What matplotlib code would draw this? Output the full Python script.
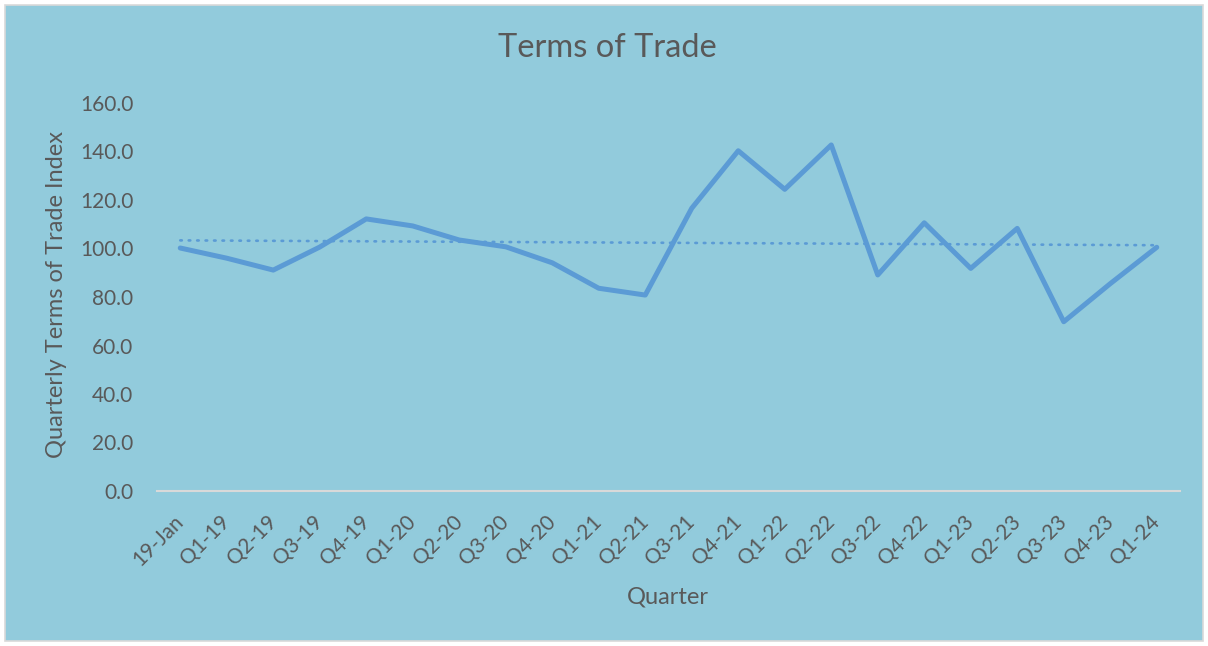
import numpy as np
import matplotlib
matplotlib.use("Agg")
import matplotlib.pyplot as plt
from matplotlib.patches import Rectangle

quarters = ["19-Jan", "Q1-19", "Q2-19", "Q3-19", "Q4-19", "Q1-20", "Q2-20", "Q3-20",
            "Q4-20", "Q1-21", "Q2-21", "Q3-21", "Q4-21", "Q1-22", "Q2-22", "Q3-22",
            "Q4-22", "Q1-23", "Q2-23", "Q3-23", "Q4-23", "Q1-24"]
tot_index = [100.2, 96.0, 91.1, 100.6, 112.2, 109.3, 103.5, 100.7, 94.1, 83.6, 80.8,
             116.6, 140.3, 124.4, 142.7, 89.1, 110.6, 91.8, 108.3, 69.8, 85.5, 100.5]
y_ticks = [0, 20, 40, 60, 80, 100, 120, 140, 160]

BG = "#92CBDC"
LINE = "#5B9BD5"
TXT = "#595959"

plt.rcParams['font.family'] = ['Lato', 'DejaVu Sans']

fig = plt.figure(figsize=(12.08, 6.46), dpi=100)
fig.patch.set_facecolor("white")
fig.patches.append(Rectangle((5/1208, 5/646), 1 - 10/1208, 1 - 10/646,
                             transform=fig.transFigure, facecolor=BG,
                             edgecolor="#D9D9D9", linewidth=1.2, zorder=-10))

ax = fig.add_axes([157/1208, 1 - 491/646, (1180 - 157)/1208, (491 - 103)/646])
ax.set_facecolor("none")

x = np.arange(len(quarters))
ax.plot(x, tot_index, color=LINE, lw=3.6, solid_joinstyle="round", solid_capstyle="round", zorder=3)

coef = np.polyfit(x, tot_index, 1)
trend = np.polyval(coef, x)
ax.plot(x, trend, color=LINE, lw=1.9, linestyle=(0, (0.6, 2.6)), dash_capstyle="round", zorder=2)

ax.set_xlim(-0.5, len(quarters) - 0.5)
ax.set_ylim(0, 160)
ax.set_yticks(y_ticks)
ax.set_yticklabels([f"{v:.1f}" for v in y_ticks], fontsize=15, color=TXT)
ax.set_xticks(x)
ax.set_xticklabels(quarters, rotation=45, ha="right", va="center",
                   rotation_mode="anchor", fontsize=15, color=TXT)
ax.tick_params(axis="both", length=0)
ax.tick_params(axis="y", pad=17)
ax.tick_params(axis="x", pad=20)

for s in ["top", "right", "left"]:
    ax.spines[s].set_visible(False)
ax.spines["bottom"].set_color("#D9D9D9")
ax.spines["bottom"].set_linewidth(1.5)

fig.text(607/1208, 1 - 48/646, "Terms of Trade", fontsize=23.5, color=TXT, ha="center", va="center")
fig.text(668/1208, 1 - 597/646, "Quarter", fontsize=17, color=TXT, ha="center", va="center")
fig.text(57/1208, 1 - 295/646, "Quarterly Terms of Trade Index", fontsize=17, color=TXT,
         ha="center", va="center", rotation=90)

fig.savefig("out.png", dpi=100, facecolor=fig.get_facecolor())
